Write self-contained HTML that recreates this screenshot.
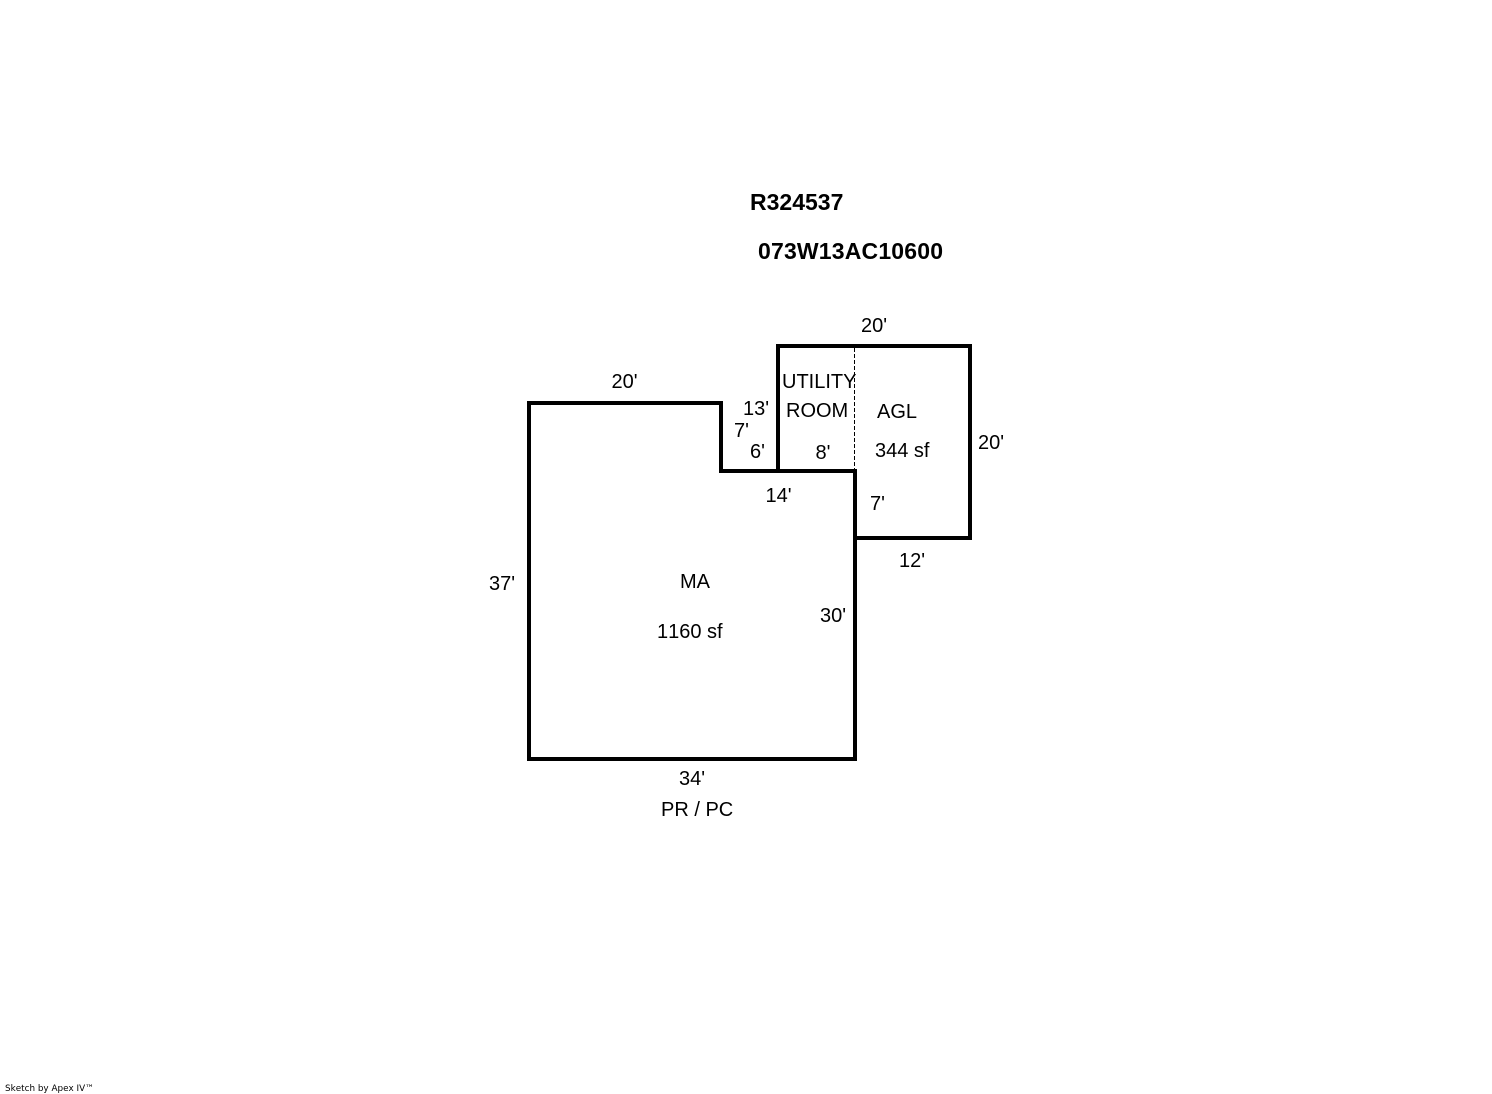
<!DOCTYPE html>
<html>
<head>
<meta charset="utf-8">
<style>
html,body{margin:0;padding:0;background:#fff;width:1492px;height:1094px;overflow:hidden}
svg{display:block}
text{font-family:"Liberation Sans",sans-serif;font-size:20px;fill:#000;font-kerning:none}
.b{font-weight:bold;font-size:23px}
</style>
</head>
<body>
<svg width="1492" height="1094" viewBox="0 0 1492 1094" xmlns="http://www.w3.org/2000/svg">
<rect width="1492" height="1094" fill="#fff"/>
<path d="M529 403H721V471H855V759H529Z" fill="none" stroke="#000" stroke-width="4" stroke-linejoin="miter"/>
<path d="M778 471V346H970V538H855" fill="none" stroke="#000" stroke-width="4" stroke-linejoin="miter"/>
<line x1="854.5" y1="348" x2="854.5" y2="469" stroke="#000" stroke-width="1" stroke-dasharray="4 2"/>
<text class="b" x="750" y="210">R324537</text>
<text class="b" x="758" y="259" textLength="185" lengthAdjust="spacing">073W13AC10600</text>
<text x="861" y="332">20'</text>
<text x="611.5" y="388">20'</text>
<text x="743" y="415">13'</text>
<text x="734" y="437">7'</text>
<text x="750" y="458">6'</text>
<text x="815.5" y="459">8'</text>
<text x="782" y="388">UTILITY</text>
<text x="786" y="417">ROOM</text>
<text x="877" y="418">AGL</text>
<text x="875" y="457">344 sf</text>
<text x="978" y="449">20'</text>
<text x="765.5" y="502">14'</text>
<text x="870" y="510">7'</text>
<text x="899" y="567">12'</text>
<text x="489" y="590">37'</text>
<text x="680" y="588">MA</text>
<text x="657" y="638">1160 sf</text>
<text x="820" y="622">30'</text>
<text x="679" y="785">34'</text>
<text x="661" y="816">PR / PC</text>
<text x="5" y="1091" style="font-family:'DejaVu Sans',sans-serif;font-size:9px" textLength="89" lengthAdjust="spacingAndGlyphs">Sketch by Apex IV™</text>
</svg>
</body>
</html>
